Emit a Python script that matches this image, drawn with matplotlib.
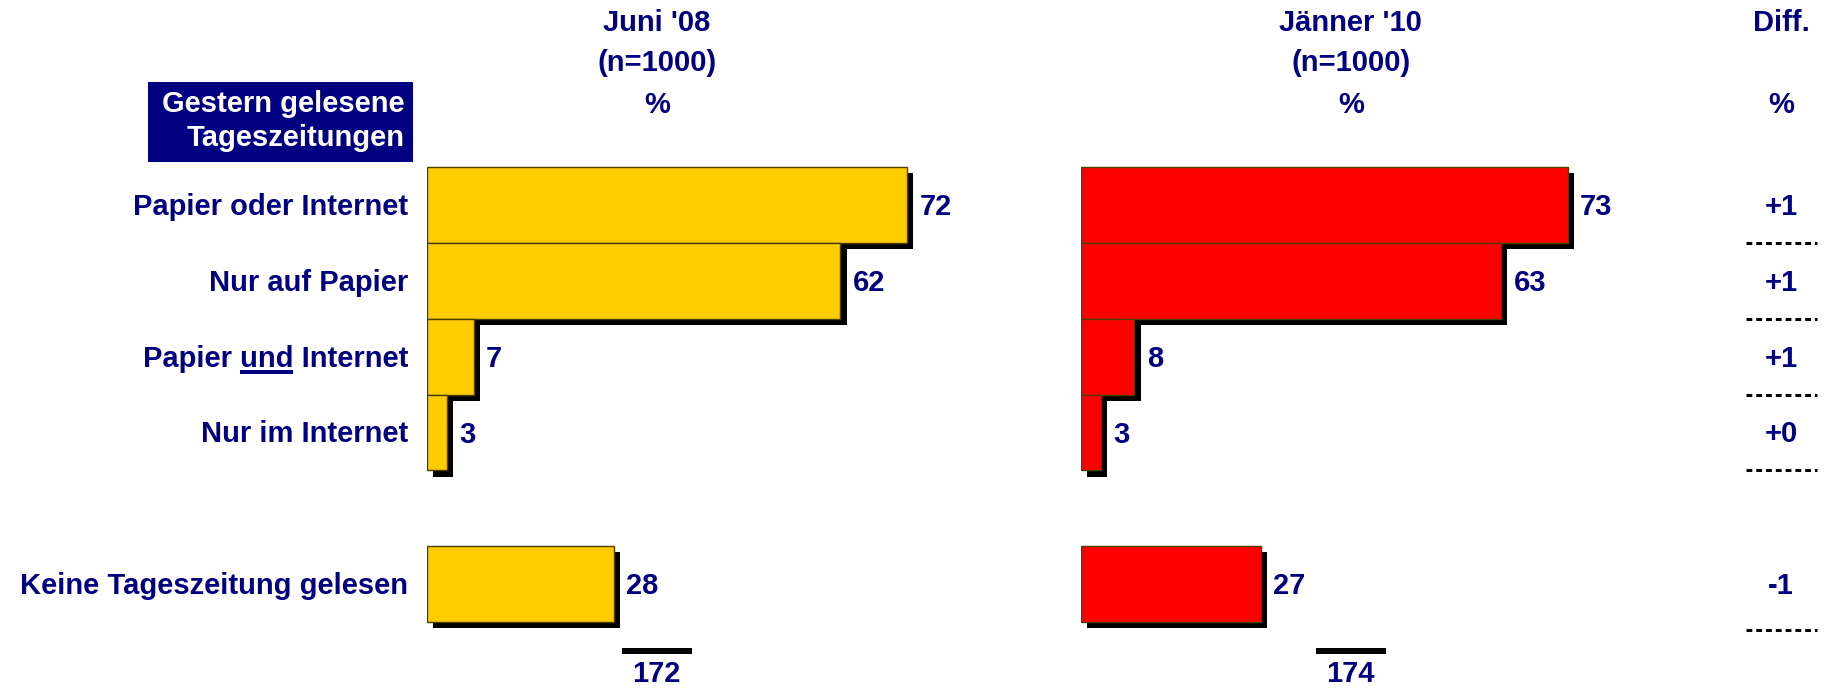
import numpy as np
import matplotlib
matplotlib.use('Agg')
import matplotlib.pyplot as plt
import matplotlib.patheffects as pe
from matplotlib.patches import Rectangle
from matplotlib.lines import Line2D
from matplotlib.transforms import blended_transform_factory, offset_copy
from matplotlib.font_manager import FontProperties

plt.rcParams['font.family'] = ['Liberation Sans', 'DejaVu Sans']
plt.rcParams['font.weight'] = 'bold'

navy = '#000080'

categories = ['Papier oder Internet', 'Nur auf Papier', 'Papier und Internet',
              'Nur im Internet', 'Keine Tageszeitung gelesen']
row_pos = [0, 1, 2, 3, 5]
juni08 = [72, 62, 7, 3, 28]
jaenner10 = [73, 63, 8, 3, 27]
diff_labels = ['+1', '+1', '+1', '+0', '-1']
col_titles = [["Juni '08", '(n=1000)', '%'], ["Jänner '10", '(n=1000)', '%'], ['Diff.', '', '%']]


def bar_panel(ax, values, color):
    shadow = [pe.SimplePatchShadow(offset=(4.5, -4.5), shadow_rgbFace='black', alpha=1.0), pe.Normal()]
    bars = ax.barh(row_pos, values, height=1.0, color=color, edgecolor='#4a4000', linewidth=1.0)
    for b in bars:
        b.set_path_effects(shadow)
    for y, v in zip(row_pos, values):
        ax.annotate(str(v), (v, y), xytext=(9, -1.5), textcoords='offset points',
                    va='center', ha='left', fontsize=21, color=navy, fontweight='bold')
    ax.set_xlim(0, 90)
    ax.set_ylim(5.8, -0.8)
    ax.axis('off')


fig = plt.figure(figsize=(18.29, 6.88), dpi=100)
ax1 = fig.add_axes([0.2335, 0.0629, 0.328, 0.7272])
ax2 = fig.add_axes([0.591, 0.0629, 0.328, 0.7272])
bar_panel(ax1, juni08, '#FFCC00')
bar_panel(ax2, jaenner10, '#FF0000')

# column headers
for xc, lines in zip([0.3592, 0.7386, 0.9738], col_titles):
    for yy, s in zip([0.9661, 0.9079, 0.8469], lines):
        fig.text(xc, yy, s, ha='center', va='center', fontsize=21, color=navy)

# header box
fig.patches.append(Rectangle((0.0809, 0.7645), 0.1449, 0.1163, transform=fig.transFigure,
                             facecolor=navy, edgecolor='none'))
fig.text(0.2214, 0.8490, 'Gestern gelesene', ha='right', va='center', fontsize=21, color='white')
fig.text(0.2214, 0.7990, 'Tageszeitungen', ha='right', va='center', fontsize=21, color='white')

# category labels
tr = offset_copy(blended_transform_factory(fig.transFigure, ax1.transData), fig, y=-2, units='dots')
cat_texts = []
for y, c in zip(row_pos, categories):
    cat_texts.append(ax1.text(0.2231, y, c, transform=tr, ha='right', va='center',
                              fontsize=21, color=navy, clip_on=False))

# diff column
tr2 = blended_transform_factory(fig.transFigure, ax2.transData)
tr2t = offset_copy(tr2, fig, y=-2, units='dots')
for y, d in zip(row_pos, diff_labels):
    ax2.text(0.9738, y, d, transform=tr2t, ha='center', va='center', fontsize=21, color=navy, clip_on=False)
    yl = y + (0.6 if y == row_pos[-1] else 0.5)
    ax2.plot([0.9546, 0.9934], [yl, yl], transform=tr2, color='black', lw=2.2,
             linestyle=(0, (1.9, 1.3)), clip_on=False)

# totals
for ax, vals, x0 in [(ax1, juni08, 0.340), (ax2, jaenner10, 0.7194)]:
    fig.add_artist(Line2D([x0, x0 + 0.0383], [0.0538, 0.0538], transform=fig.transFigure,
                          color='black', lw=4.3, solid_capstyle='butt'))
    fig.text(x0 + 0.0191, 0.0205, str(sum(vals)), ha='center', va='center', fontsize=21, color=navy)

# underline "und"
fig.canvas.draw()
r = fig.canvas.get_renderer()
t = cat_texts[2]
bb = t.get_window_extent(r)
fp = FontProperties(family=['Liberation Sans'], weight='bold', size=21)
_, _, descent = r.get_text_width_height_descent(t.get_text(), fp, ismath=False)
def w(s):
    tmp = fig.text(0, 0, s, fontsize=21, fontweight='bold')
    wd = tmp.get_window_extent(r).width
    tmp.remove()
    return wd
x_end = bb.x0 + w('Papier und')
x_start = x_end - w('und')
y_ul = bb.y0 + descent - 5
fig.add_artist(Line2D([x_start, x_end], [y_ul, y_ul], transform=None,
                      color=navy, lw=2.9, solid_capstyle='butt'))

fig.savefig('out.png', dpi=100)
